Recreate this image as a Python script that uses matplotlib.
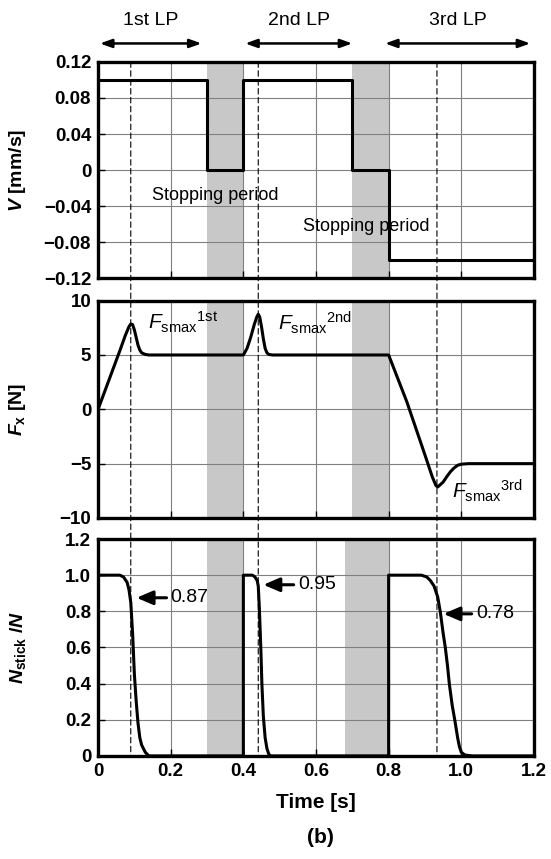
import matplotlib
matplotlib.use("Agg")
import matplotlib.pyplot as plt
from matplotlib.patches import ConnectionPatch

plt.rcParams['font.family'] = ['Liberation Sans', 'DejaVu Sans']
plt.rcParams['mathtext.fontset'] = 'custom'
plt.rcParams['mathtext.rm'] = 'Liberation Sans:bold'
plt.rcParams['mathtext.it'] = 'Liberation Sans:italic:bold'
plt.rcParams['mathtext.sf'] = 'Liberation Sans'
plt.rcParams['mathtext.bf'] = 'Liberation Sans:italic'

# ---- data ----
v_t = [0, 0.3, 0.3, 0.4, 0.4, 0.7, 0.7, 0.8, 0.8, 1.2]
v_val = [0.1, 0.1, 0, 0, 0.1, 0.1, 0, 0, -0.1, -0.1]

fx_t = [0, 0.02, 0.04, 0.06, 0.075, 0.085, 0.09, 0.095, 0.10, 0.105, 0.11, 0.115, 0.12, 0.13, 0.14,
        0.40, 0.41, 0.42, 0.43, 0.437, 0.441, 0.445, 0.45, 0.455, 0.46, 0.465, 0.47, 0.48,
        0.80, 0.85, 0.90, 0.92, 0.93, 0.935, 0.94, 0.95, 0.96, 0.97, 0.98, 0.99, 1.00, 1.02, 1.2]
fx_val = [0, 1.8, 3.6, 5.4, 6.8, 7.6, 7.85, 7.8, 7.3, 6.6, 5.9, 5.45, 5.2, 5.05, 5.0,
          5.0, 5.6, 6.6, 7.8, 8.5, 8.75, 8.5, 7.6, 6.5, 5.6, 5.2, 5.05, 5.0,
          5.0, 0.7, -4.2, -6.2, -7.0, -7.15, -7.0, -6.7, -6.2, -5.75, -5.4, -5.15, -5.05, -5.0, -5.0]

n_t = [0, 0.06, 0.07, 0.08, 0.085, 0.09, 0.095, 0.10, 0.105, 0.11, 0.115, 0.12, 0.13, 0.14,
       0.40, 0.40, 0.425, 0.432, 0.438, 0.441, 0.444, 0.448, 0.451, 0.455, 0.46, 0.465, 0.47, 0.475,
       0.80, 0.80, 0.89, 0.905, 0.915, 0.925, 0.935, 0.942, 0.95, 0.956, 0.962, 0.967, 0.975, 0.982,
       0.99, 0.995, 1.0, 1.01, 1.03, 1.2]
n_val = [1.0, 1.0, 0.99, 0.96, 0.92, 0.85, 0.68, 0.45, 0.30, 0.18, 0.10, 0.06, 0.02, 0.0,
         0.0, 1.0, 1.0, 0.99, 0.97, 0.94, 0.82, 0.6, 0.4, 0.22, 0.1, 0.04, 0.01, 0.0,
         0.0, 1.0, 1.0, 0.99, 0.97, 0.94, 0.88, 0.8, 0.68, 0.6, 0.5, 0.4, 0.28, 0.2,
         0.1, 0.05, 0.02, 0.005, 0.0, 0.0]

stop_periods = [(0.3, 0.4), (0.7, 0.8)]
stop_periods_n = [(0.3, 0.4), (0.68, 0.8)]
peak_times = [0.09, 0.441, 0.933]
lp_labels = ['1st LP', '2nd LP', '3rd LP']
lp_spans = [(0.005, 0.285), (0.405, 0.70), (0.79, 1.19)]
peak_labels = ['1st', '2nd', '3rd']
peak_label_pos = [(0.138, 8.0), (0.496, 8.0), (0.975, -7.5)]
ratio_labels = ['0.87', '0.95', '0.78']
ratio_points = [(0.106, 0.875), (0.455, 0.947), (0.951, 0.786)]
ratio_text_x = [0.20, 0.55, 1.04]

fig = plt.figure(figsize=(5.51, 8.59), dpi=100)
left, width = 0.178, 0.791
ax1 = fig.add_axes([left, 0.676, width, 0.252])
ax2 = fig.add_axes([left, 0.397, width, 0.253])
ax3 = fig.add_axes([left, 0.120, width, 0.2525])
axes = [ax1, ax2, ax3]

for ax, spans in zip(axes, [stop_periods, stop_periods, stop_periods_n]):
    for a, b in spans:
        ax.axvspan(a, b, color='#c8c8c8', lw=0, zorder=0.5)
    ax.set_xlim(0, 1.2)
    ax.set_xticks([0, 0.2, 0.4, 0.6, 0.8, 1.0, 1.2])
    ax.grid(True, color='#808080', lw=0.8)
    for s in ax.spines.values():
        s.set_linewidth(2.4)
    ax.tick_params(direction='in', length=5, width=1, labelsize=13.5, pad=5)
    ax.yaxis.set_label_coords(-0.16, 0.5)

ax1.plot(v_t, v_val, color='black', lw=2.2, zorder=3)
ax1.set_ylim(-0.12, 0.12)
ax1.set_yticks([-0.12, -0.08, -0.04, 0, 0.04, 0.08, 0.12])
ax1.set_yticklabels(['\u22120.12', '\u22120.08', '\u22120.04', '0', '0.04', '0.08', '0.12'],
                    fontweight='bold')
ax1.set_xticklabels([])
ax1.set_ylabel('$V$ [mm/s]', fontsize=14, fontweight='bold')
ax1.text(0.149, -0.028, 'Stopping period', fontsize=13, va='center', ha='left')
ax1.text(0.565, -0.063, 'Stopping period', fontsize=13, va='center', ha='left')

ax2.plot(fx_t, fx_val, color='black', lw=2.2, zorder=3)
ax2.set_ylim(-10, 10)
ax2.set_yticks([-10, -5, 0, 5, 10])
ax2.set_yticklabels(['\u221210', '\u22125', '0', '5', '10'], fontweight='bold')
ax2.set_xticklabels([])
ax2.set_ylabel(r'$F_{\mathrm{x}}$ [N]', fontsize=14, fontweight='bold')
for lab, (px, py) in zip(peak_labels, peak_label_pos):
    ax2.text(px, py, r'$\mathbf{F}_{\mathsf{smax}}{}^{\mathsf{%s}}$' % lab, fontsize=15, va='center')

ax3.plot(n_t, n_val, color='black', lw=2.2, zorder=3)
ax3.set_ylim(0, 1.2)
ax3.set_yticks([0, 0.2, 0.4, 0.6, 0.8, 1.0, 1.2])
ax3.set_yticklabels(['0', '0.2', '0.4', '0.6', '0.8', '1.0', '1.2'], fontweight='bold')
ax3.set_xticklabels(['0', '0.2', '0.4', '0.6', '0.8', '1.0', '1.2'], fontweight='bold')
ax3.set_ylabel(r'$N_{\mathrm{stick}}$ /$N$', fontsize=14, fontweight='bold')
ax3.set_xlabel('Time [s]', fontsize=15, fontweight='bold')
ax3.xaxis.set_label_coords(0.5, -0.17)

for lab, (px, py), tx in zip(ratio_labels, ratio_points, ratio_text_x):
    ax3.annotate(lab, xy=(px, py), xytext=(tx, py), fontsize=14, va='center', ha='left',
                 arrowprops=dict(arrowstyle='-|>,head_length=0.7,head_width=0.3',
                                 color='black', lw=2.2, shrinkA=1, shrinkB=0))

# dashed lines through all panels at the peak times
for t in peak_times:
    con = ConnectionPatch(xyA=(t, 1.0), coordsA=ax1.get_xaxis_transform(),
                          xyB=(t, 0.0), coordsB=ax3.get_xaxis_transform(),
                          color='black', lw=0.8, ls=(0, (5, 3)), zorder=2)
    fig.add_artist(con)

# load period arrows on top
for lab, (a, b) in zip(lp_labels, lp_spans):
    ax1.annotate('', xy=(a, 1.085), xytext=(b, 1.085), xycoords=ax1.get_xaxis_transform(),
                 arrowprops=dict(arrowstyle='<|-|>,head_length=0.7,head_width=0.25',
                                 color='black', lw=1.8, shrinkA=0, shrinkB=0))
    ax1.text((a + b) / 2, 1.19, lab, transform=ax1.get_xaxis_transform(),
             fontsize=14, ha='center', va='center')

fig.text(0.581, 0.025, '(b)', fontsize=15, fontweight='bold', ha='center', va='center')

fig.savefig('out.png', dpi=100)
